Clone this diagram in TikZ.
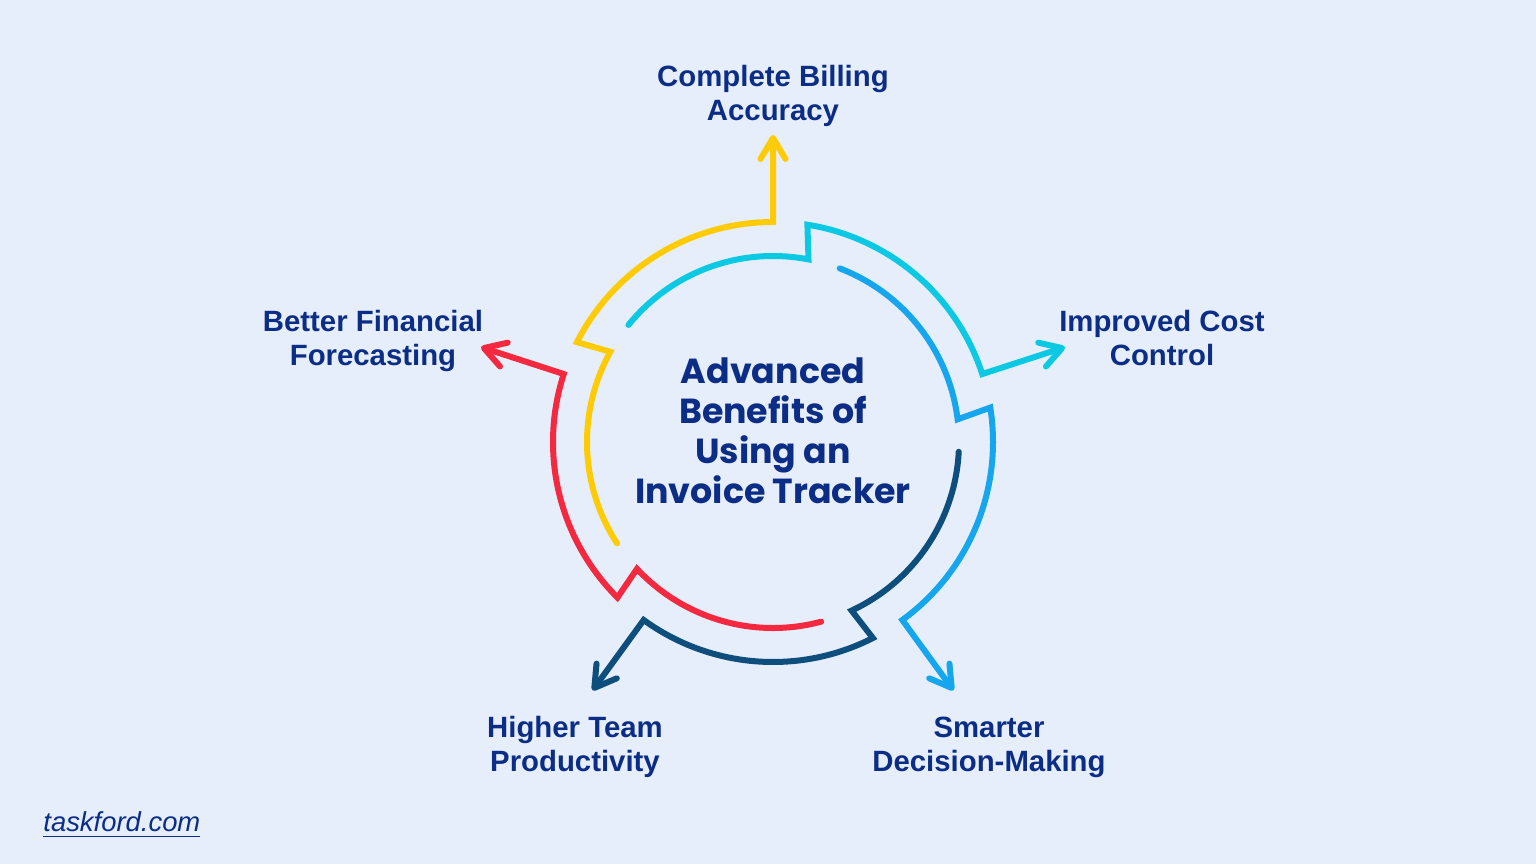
\documentclass[tikz,border=0pt]{standalone}
\usepackage{fontspec}
\setmainfont{Liberation Sans}
\newfontfamily\headfont{Poppins}
\usetikzlibrary{arrows.meta}
\definecolor{bgblue}{HTML}{E6EEFB}
\definecolor{ink}{HTML}{0B2D85}
\definecolor{ylw}{HTML}{FFCB05}
\definecolor{cyn}{HTML}{0BC9E3}
\definecolor{sky}{HTML}{15A6EE}
\definecolor{navy}{HTML}{0E4E7D}
\definecolor{rd}{HTML}{F4293F}
\tikzset{
  seg/.style={line width=.6mm,line cap=round,line join=miter,
    -{Straight Barb[length=2.1mm,width=2.5mm,round]}},
  lb/.style={font=\bfseries\fontsize{8.35}{9.6}\selectfont,text=ink,align=center},
  ttl/.style={font=\headfont\bfseries\fontsize{9.9}{11.4}\selectfont,text=ink,align=center},
  web/.style={font=\itshape\fontsize{7.8}{9}\selectfont,text=ink,anchor=west},
}
\begin{document}
\begin{tikzpicture}[x=.1mm,y=.1mm]
\fill[bgblue] (0,0) rectangle (1536,864);
\useasboundingbox (0,0) rectangle (1536,864);
% the title in the middle of the ring
\node[ttl] (title) at (773,433) {Advanced\\Benefits of\\Using an\\Invoice Tracker};
% five strands: inner arc, step out, outer arc, arrow out
\begin{scope}[shift={(773,422)}]
\coordinate (tipA) at (90:307);
\coordinate (tipB) at (18:307);
\coordinate (tipC) at (-54:307);
\coordinate (tipD) at (-126:307);
\coordinate (tipE) at (162:307);
\draw[seg,draw=ylw] (213:186) arc[start angle=213,end angle=151,radius=186]
  -- (153:220) arc[start angle=153,end angle=90,radius=220] -- (tipA);
\draw[seg,draw=cyn] (141:186) arc[start angle=141,end angle=79,radius=186]
  -- (81:220) arc[start angle=81,end angle=18,radius=220] -- (tipB);
\draw[seg,draw=sky] (69:186) arc[start angle=69,end angle=7,radius=186]
  -- (9:220) arc[start angle=9,end angle=-54,radius=220] -- (tipC);
\draw[seg,draw=navy] (-3:186) arc[start angle=-3,end angle=-65,radius=186]
  -- (-63:220) arc[start angle=-63,end angle=-126,radius=220] -- (tipD);
\draw[seg,draw=rd] (285:186) arc[start angle=285,end angle=223,radius=186]
  -- (225:220) arc[start angle=225,end angle=162,radius=220] -- (tipE);
\end{scope}
% the benefits
\node[lb] (billing) at (773,768) {Complete Billing\\Accuracy};
\node[lb] (cost) at (1162,526) {Improved Cost\\Control};
\node[lb] (decision) at (989,117) {Smarter\\Decision-Making};
\node[lb] (team) at (575,117) {Higher Team\\Productivity};
\node[lb] (forecast) at (373,523) {Better Financial\\Forecasting};
\node[web] (site) at (31,39) {\underline{taskford.com}};
\end{tikzpicture}
\end{document}
